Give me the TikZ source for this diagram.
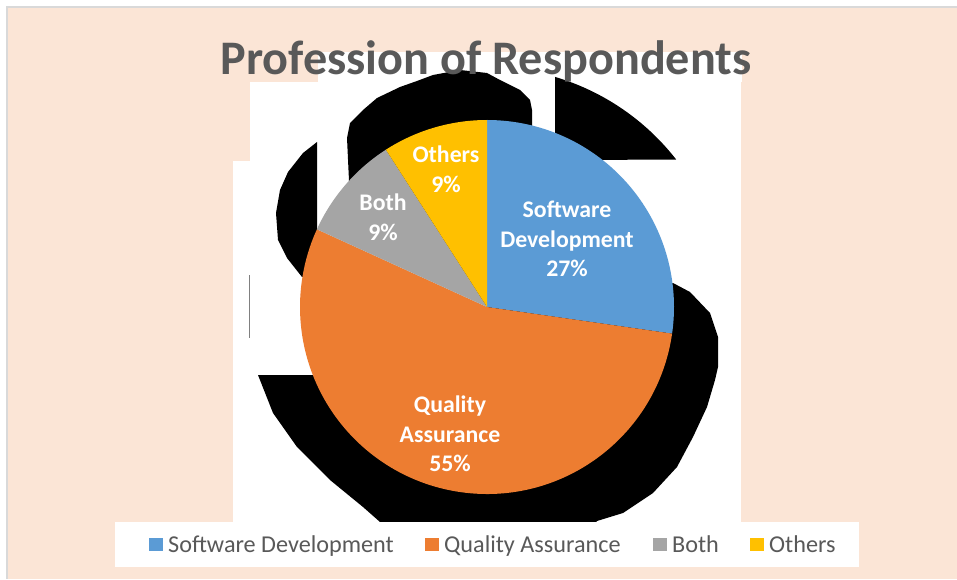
\documentclass[tikz,border=0pt]{standalone}
\usepackage{fontspec}
\setmainfont{Carlito}
\definecolor{peach}{HTML}{FBE5D6}
\definecolor{framegray}{HTML}{D9D9D9}
\definecolor{txtgray}{HTML}{595959}
\definecolor{sdblue}{HTML}{5B9BD5}
\definecolor{qaorange}{HTML}{ED7D31}
\definecolor{bothgray}{HTML}{A5A5A5}
\definecolor{othyellow}{HTML}{FFC000}
\tikzset{
  slicelabel/.style={text=white, align=center, font=\fontsize{23.8}{29.5}\selectfont\bfseries, inner sep=0pt},
  legtext/.style={text=txtgray, anchor=base west, font=\fontsize{24.2}{28}\selectfont, inner sep=0pt},
  legsq/.style={minimum size=13.5pt, inner sep=0pt, anchor=south west},
}
\begin{document}
\begin{tikzpicture}[x=1pt,y=1pt]
\useasboundingbox (0,0) rectangle (957,579);
% page background and frame
\fill[white] (0,0) rectangle (957,579);
\fill[peach] (8,0) rectangle (957,571);
\fill[framegray] (6,0) rectangle (8,573);
\fill[framegray] (6,571) rectangle (957,573);
% white plot-area pieces
\fill[white] (250,57) rectangle (741,497);
\fill[white] (233,57) rectangle (250,418);
\fill[white] (318,497) rectangle (742,527);
% black artefact shapes
\fill[black] (349,398) -- (347,441) -- (350,456) -- (363,469) -- (377,481) -- (400,492) -- (417,498)
  -- (433,504) -- (460,509) -- (487,506) -- (500,499) -- (520,489) -- (530,479) -- (532,469)
  -- (532,453) -- (487,272) -- cycle;
\fill[black] (555,419) -- (555,502.1) arc[start angle=73.5, end angle=37.9, radius=240pt] -- cycle;
\fill[black] (317,437) -- (303,426) -- (288,407) -- (280,389) -- (276,366) -- (278,339) -- (287,321)
  -- (302,302) -- (340,310) -- (317,350) -- cycle;
\fill[black] (673,296) -- (690,287) -- (710,266) -- (718,242) -- (718,212) -- (715,199) -- (707,172)
  -- (693,142) -- (677,112) -- (653,86) -- (623,66) -- (597,58) -- (596,57) -- (380,57) -- (363,72)
  -- (330,99) -- (297,132) -- (273,166) -- (258,204) -- (400,204) -- (487,272) -- cycle;
\draw[gray, line width=0.8pt] (249,304) -- (249,241);
% pie
\coordinate (c) at (487,272);
\fill[sdblue] (c) -- ++(90:187pt) arc[start angle=90, end angle=-8.18, radius=187pt] -- cycle;
\fill[qaorange] (c) -- ++(-8.18:187pt) arc[start angle=-8.18, end angle=-204.55, radius=187pt] -- cycle;
\fill[bothgray] (c) -- ++(155.45:187pt) arc[start angle=155.45, end angle=122.73, radius=187pt] -- cycle;
\fill[othyellow] (c) -- ++(122.73:187pt) arc[start angle=122.73, end angle=90, radius=187pt] -- cycle;
% slice labels
\node[slicelabel] (lsd) at (567,340) {Software\\Development\\27\%};
\node[slicelabel] (loth) at (446,410) {Others\\9\%};
\node[slicelabel] (lboth) at (383,362) {Both\\9\%};
\node[slicelabel] (lqa) at (450,145) {Quality\\Assurance\\55\%};
% legend
\fill[white] (115,12) rectangle (859,57);
\node[legsq, fill=sdblue] (sq1) at (149,27.5) {};
\node[legtext] (t1) at (168,27) {Software Development};
\node[legsq, fill=qaorange] (sq2) at (425,27.5) {};
\node[legtext] (t2) at (444,27) {Quality Assurance};
\node[legsq, fill=bothgray] (sq3) at (653,27.5) {};
\node[legtext] (t3) at (672,27) {Both};
\node[legsq, fill=othyellow] (sq4) at (750,27.5) {};
\node[legtext] (t4) at (769,27) {Others};
% title
\node[text=txtgray, anchor=base, inner sep=0pt, font=\fontsize{48.2}{50}\selectfont\bfseries] (title) at (486,504) {Profession of Respondents};
\end{tikzpicture}
\end{document}
